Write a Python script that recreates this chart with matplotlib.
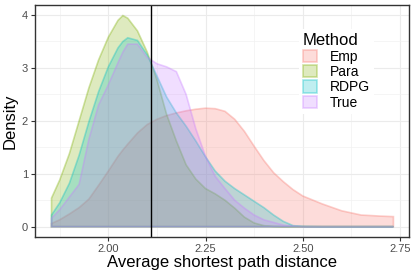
import matplotlib
matplotlib.use("Agg")
import matplotlib.pyplot as plt
from matplotlib.colors import to_rgba
from matplotlib.patches import Patch
from matplotlib.ticker import MultipleLocator
import numpy as np

plt.rcParams['font.family'] = ['Liberation Sans', 'DejaVu Sans']

# density estimates
x = [1.854, 1.875, 1.90, 1.925, 1.95, 1.975, 2.00, 2.025, 2.0375, 2.05, 2.075, 2.10,
     2.125, 2.15, 2.175, 2.20, 2.225, 2.25, 2.275, 2.30, 2.325, 2.35, 2.375,
     2.40, 2.425, 2.45, 2.475, 2.50, 2.55, 2.60, 2.65, 2.70, 2.733]
emp = [0.06, 0.13, 0.24, 0.36, 0.52, 0.78, 1.05, 1.33, 1.45, 1.56, 1.77, 1.93,
       2.03, 2.10, 2.15, 2.19, 2.22, 2.24, 2.23, 2.18, 2.03, 1.80, 1.52,
       1.25, 1.02, 0.85, 0.70, 0.58, 0.43, 0.30, 0.22, 0.20, 0.19]
para = [0.54, 0.88, 1.38, 2.00, 2.62, 3.15, 3.58, 3.90, 3.99, 3.94, 3.70, 3.30,
        2.78, 2.12, 1.62, 1.17, 0.90, 0.72, 0.62, 0.50, 0.35, 0.18, 0.07,
        0.02, 0.005, 0, 0, 0, 0, 0, 0, 0, 0]
rdpg = [0.22, 0.45, 0.82, 1.35, 1.98, 2.55, 3.02, 3.38, 3.50, 3.57, 3.52, 3.25,
        2.85, 2.45, 2.15, 1.90, 1.62, 1.32, 1.05, 0.86, 0.72, 0.60, 0.48,
        0.36, 0.22, 0.10, 0.02, 0.005, 0, 0, 0, 0, 0]
true = [0.16, 0.32, 0.56, 0.80, 1.65, 2.30, 2.68, 3.10, 3.30, 3.45, 3.45, 3.20,
        3.08, 3.02, 2.93, 2.50, 1.85, 1.33, 0.95, 0.72, 0.50, 0.35, 0.22,
        0.13, 0.08, 0.03, 0.01, 0, 0, 0, 0, 0, 0]

methods = ['Emp', 'Para', 'RDPG', 'True']
series = [emp, para, rdpg, true]
colors = ['#F8766D', '#7CAE00', '#00BFC4', '#C77CFF']
vline = 2.109

fig = plt.figure(figsize=(4.15, 2.77), dpi=100)
ax = fig.add_axes([0.0843, 0.1444, 0.9012, 0.8376])

for ys, c in zip(series, colors):
    px = np.r_[x[0], x, x[-1]]
    py = np.r_[0, ys, 0]
    ax.fill(px, py, facecolor=to_rgba(c, 0.25), edgecolor=to_rgba(c, 0.35), lw=1.2)

ax.axvline(vline, color='black', lw=1.0)

ax.set_xlim(1.8115, 2.773)
ax.set_ylim(-0.195, 4.19)
ax.xaxis.set_major_locator(MultipleLocator(0.25))
ax.xaxis.set_minor_locator(MultipleLocator(0.125))
ax.yaxis.set_major_locator(MultipleLocator(1))
ax.yaxis.set_minor_locator(MultipleLocator(0.5))
ax.set_xticks([2.0, 2.25, 2.5, 2.75], ['2.00', '2.25', '2.50', '2.75'])
ax.grid(which='major', color='#EBEBEB', lw=0.8)
ax.grid(which='minor', color='#F2F2F2', lw=0.5)
ax.set_axisbelow(True)
ax.tick_params(which='minor', length=0)
ax.tick_params(which='major', length=3, color='#333333', labelsize=8,
               labelcolor='#4D4D4D', pad=2)
for s in ax.spines.values():
    s.set_color('#333333')
    s.set_linewidth(1.0)

ax.set_xlabel('Average shortest path distance', fontsize=12, labelpad=1)
ax.set_ylabel('Density', fontsize=12, labelpad=3)

handles = [Patch(facecolor=to_rgba(c, 0.25), edgecolor=to_rgba(c, 0.35), lw=1.2)
           for c in colors]
leg = ax.legend(handles, methods, title='Method', loc='upper left',
                bbox_to_anchor=(292 / 415, 1 - 22 / 277), bbox_transform=fig.transFigure,
                fontsize=10, title_fontsize=12, frameon=True, facecolor='white',
                edgecolor='none', framealpha=1, fancybox=False,
                handlelength=1.0, handleheight=1.0, handletextpad=0.9,
                labelspacing=0.1, alignment='left', borderpad=0.3)

fig.savefig('out.png', dpi=100)
